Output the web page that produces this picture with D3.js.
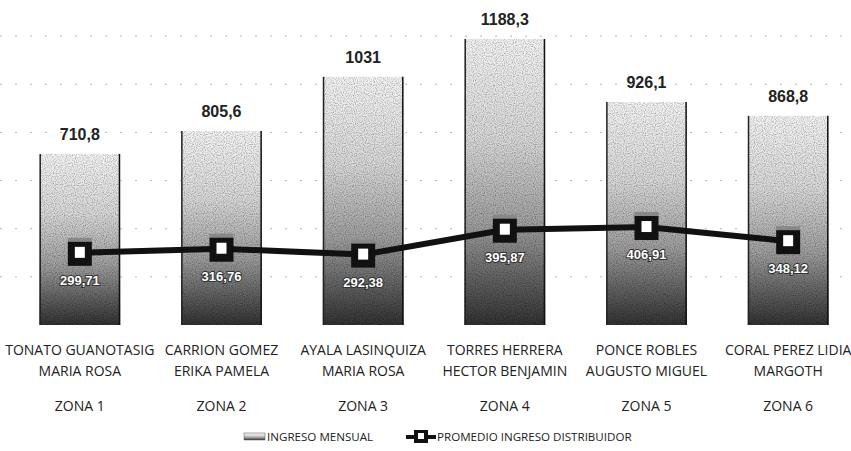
<!DOCTYPE html>
<html><head><meta charset="utf-8">
<script src="https://cdn.jsdelivr.net/npm/d3@7"></script>
<style>html,body{margin:0;padding:0;background:#fff;}svg{display:block;}</style>
</head><body>
<script>
const names1 = ["TONATO GUANOTASIG","CARRION GOMEZ","AYALA LASINQUIZA","TORRES HERRERA","PONCE ROBLES","CORAL PEREZ LIDIA"];
const names2 = ["MARIA ROSA","ERIKA PAMELA","MARIA ROSA","HECTOR BENJAMIN","AUGUSTO MIGUEL","MARGOTH"];
const zones = ["ZONA 1","ZONA 2","ZONA 3","ZONA 4","ZONA 5","ZONA 6"];
const ingresoMensual = [710.8, 805.6, 1031, 1188.3, 926.1, 868.8];
const ingresoLabels = ["710,8","805,6","1031","1188,3","926,1","868,8"];
const promedio = [299.71, 316.76, 292.38, 395.87, 406.91, 348.12];
const promedioLabels = ["299,71","316,76","292,38","395,87","406,91","348,12"];
const gridTicks = [0,200,400,600,800,1000,1200];
const legendLabels = ["INGRESO MENSUAL","PROMEDIO INGRESO DISTRIBUIDOR"];

const W = 851, H = 451;
const svg = d3.select("body").append("svg").attr("width", W).attr("height", H);
const defs = svg.append("defs");
const grad = defs.append("linearGradient").attr("id","barGrad").attr("x1",0).attr("y1",0).attr("x2",0).attr("y2",1);
[[0,"#f6f6f6"],[0.35,"#dadada"],[0.65,"#a0a0a0"],[0.85,"#606060"],[1,"#333"]].forEach(s=>grad.append("stop").attr("offset",s[0]).attr("stop-color",s[1]));
const flt = defs.append("filter").attr("id","noise").attr("x",0).attr("y",0).attr("width",1).attr("height",1);
flt.append("feTurbulence").attr("type","fractalNoise").attr("baseFrequency",0.9).attr("numOctaves",1).attr("seed",3).attr("result","t");
flt.append("feColorMatrix").attr("in","t").attr("type","matrix")
  .attr("values","0 0 0 0 0  0 0 0 0 0  0 0 0 0 0  0 0 0 1.4 -0.55").attr("result","n");
flt.append("feComposite").attr("in","n").attr("in2","SourceGraphic").attr("operator","in").attr("result","nn");
flt.append("feMerge").selectAll("feMergeNode").data(["SourceGraphic","nn"]).enter().append("feMergeNode").attr("in",d=>d);

const x = d3.scaleBand().domain(zones).range([9, 859]).paddingInner(0.43).paddingOuter(0.215);
const y = d3.scaleLinear().domain([0, 1350]).range([325, 0]);

// gridlines
svg.append("g").selectAll("line").data(gridTicks.slice(1)).enter().append("line")
  .attr("x1", 0).attr("x2", W).attr("y1", d=>y(d)).attr("y2", d=>y(d))
  .attr("stroke", "#b5b5b5").attr("stroke-width", 1).attr("stroke-dasharray", "2,13");

// bars
const bars = svg.append("g");
bars.selectAll("rect").data(ingresoMensual).enter().append("rect")
  .attr("x", (d,i)=>x(zones[i])).attr("width", x.bandwidth())
  .attr("y", d=>y(d)).attr("height", d=>y(0)-y(d))
  .attr("fill","url(#barGrad)").attr("filter","url(#noise)");
bars.selectAll("line.l").data(ingresoMensual).enter().append("line").attr("class","l")
  .attr("x1",(d,i)=>x(zones[i])+0.75).attr("x2",(d,i)=>x(zones[i])+0.75)
  .attr("y1",d=>y(d)).attr("y2",y(0)).attr("stroke","#222").attr("stroke-width",1.5);
bars.selectAll("line.r").data(ingresoMensual).enter().append("line").attr("class","r")
  .attr("x1",(d,i)=>x(zones[i])+x.bandwidth()-0.75).attr("x2",(d,i)=>x(zones[i])+x.bandwidth()-0.75)
  .attr("y1",d=>y(d)).attr("y2",y(0)).attr("stroke","#111").attr("stroke-width",1.5);

// bar labels
svg.append("g").selectAll("text").data(ingresoLabels).enter().append("text")
  .attr("x",(d,i)=>x(zones[i])+x.bandwidth()/2).attr("y",(d,i)=>y(ingresoMensual[i])-14)
  .attr("text-anchor","middle").attr("font-family","Liberation Sans, Arial, sans-serif")
  .attr("font-weight","bold").attr("font-size",16).attr("fill","#222").text(d=>d);

// line
const cx = (i)=>x(zones[i])+x.bandwidth()/2;
const line = d3.line().x((d,i)=>cx(i)).y(d=>y(d));
svg.append("path").datum(promedio).attr("d",line).attr("fill","none").attr("stroke","#111").attr("stroke-width",6);

// markers
const mk = svg.append("g").selectAll("g").data(promedio).enter().append("g")
  .attr("transform",(d,i)=>`translate(${cx(i)},${y(d)})`);
mk.append("rect").attr("x",-12).attr("y",-15).attr("width",24).attr("height",6).attr("fill","#888");
mk.append("rect").attr("x",-12).attr("y",-11).attr("width",24).attr("height",24).attr("fill","#111");
mk.append("rect").attr("x",-5).attr("y",-6).attr("width",10).attr("height",11).attr("fill","#fff");

// line labels
svg.append("g").selectAll("text").data(promedioLabels).enter().append("text")
  .attr("x",(d,i)=>cx(i)).attr("y",(d,i)=>y(promedio[i])+32)
  .attr("text-anchor","middle").attr("font-family","Liberation Sans, Arial, sans-serif")
  .attr("font-weight","bold").attr("font-size",13).attr("fill","#fff")
  .attr("stroke","#333").attr("stroke-width",2).attr("paint-order","stroke").text(d=>d);

// category labels
const cat = svg.append("g").attr("font-family","Open Sans, sans-serif").attr("font-size",14).attr("fill","#222").attr("text-anchor","middle");
cat.selectAll("text.n1").data(names1).enter().append("text").attr("class","n1")
  .attr("x",(d,i)=>cx(i)).attr("y",355).text(d=>d);
cat.selectAll("text.n2").data(names2).enter().append("text").attr("class","n2")
  .attr("x",(d,i)=>cx(i)).attr("y",376).text(d=>d);
cat.selectAll("text.z").data(zones).enter().append("text").attr("class","z")
  .attr("x",(d,i)=>cx(i)).attr("y",411).text(d=>d);

// legend
const lg = svg.append("g").attr("font-family","Open Sans, sans-serif").attr("font-size",11.6).attr("fill","#222");
lg.append("rect").attr("x",244).attr("y",433).attr("width",21).attr("height",7).attr("fill","url(#barGrad)").attr("stroke","#555").attr("stroke-width",0.5);
lg.append("text").attr("x",267).attr("y",441).text(legendLabels[0]);
lg.append("line").attr("x1",406).attr("x2",436).attr("y1",437).attr("y2",437).attr("stroke","#111").attr("stroke-width",4);
lg.append("rect").attr("x",414).attr("y",430).attr("width",14).attr("height",13).attr("fill","#111");
lg.append("rect").attr("x",418).attr("y",433).attr("width",6).attr("height",6).attr("fill","#fff");
lg.append("text").attr("x",437).attr("y",441).text(legendLabels[1]);
</script>
</body></html>
